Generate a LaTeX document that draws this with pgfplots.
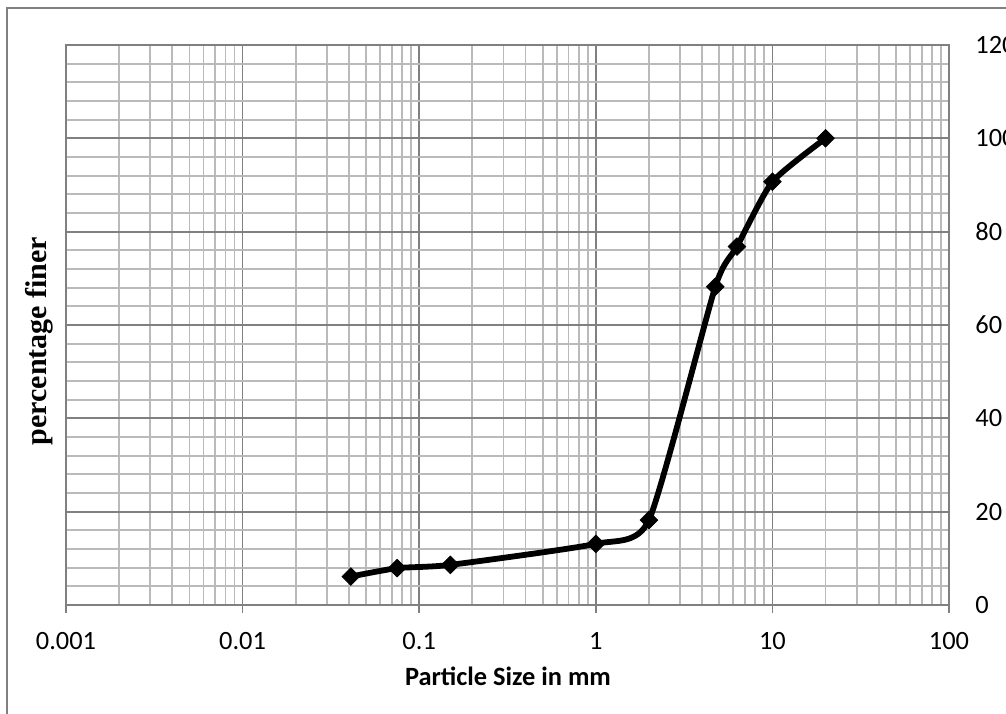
\documentclass[border=0pt]{standalone}
\usepackage{fontspec}
\setmainfont{Carlito}
\newfontfamily\titleserif{Liberation Serif}
\usepackage{pgfplots}
\pgfplotsset{compat=1.18}
\definecolor{majgrid}{HTML}{808080}
\definecolor{mingrid}{HTML}{BABABA}
\begin{document}
\begin{tikzpicture}
\clip (0,0) rectangle (503pt,356.5pt);
\path[use as bounding box] (0,0) rectangle (503pt,356.5pt);
% outer chart frame (only left and top edges are in view)
\draw[majgrid,line width=0.9pt] (3.5pt,-2pt) -- (3.5pt,352.5pt) -- (510pt,352.5pt);
\begin{axis}[
    at={(33pt,54pt)},anchor=south west,
    scale only axis,width=441.5pt,height=280pt,
    xmode=log,log basis x=10,
    xmin=0.001,xmax=100,ymin=0,ymax=120,
    xtick={0.001,0.01,0.1,1,10,100},
    xticklabels={0.001,0.01,0.1,1,10,100},
    minor xtick={0.002,0.003,0.004,0.005,0.006,0.007,0.008,0.009,
                 0.02,0.03,0.04,0.05,0.06,0.07,0.08,0.09,
                 0.2,0.3,0.4,0.5,0.6,0.7,0.8,0.9,
                 2,3,4,5,6,7,8,9,20,30,40,50,60,70,80,90},
    ytick={0,20,40,60,80,100,120},
    yticklabels={0,20,40,60,80,100,120},
    minor ytick={4,8,12,16,24,28,32,36,44,48,52,56,64,68,72,76,84,88,92,96,104,108,112,116},
    grid=both,
    major grid style={majgrid,line width=0.9pt},
    minor grid style={mingrid,line width=0.9pt},
    axis line style={majgrid,line width=0.9pt},
    tick style={majgrid,line width=0.9pt},
    xtick pos=bottom,tick align=outside,major tick length=4pt,minor tick length=0pt,
    ytick style={draw=none},
    yticklabel pos=right,
    /pgf/number format/assume math mode=true,
    tick label style={font=\fontsize{13.2}{15}\selectfont,text=black},
    xticklabel style={anchor=base,yshift=-18pt},
    yticklabel style={anchor=west,inner sep=0pt,xshift=9pt},
    clip=false,
]
\addplot[black,line width=2.9pt,smooth,tension=0.35,
    mark=square*,mark size=3.1pt,
    mark options={rotate=45,line width=0.4pt,fill=black}] coordinates
  {(0.041,6.1)(0.075,7.9)(0.15,8.6)(1,13.1)(2,18.2)(4.75,68.2)(6.3,76.8)(10,90.7)(20,100)};
\end{axis}
\node[anchor=base,font=\fontsize{13.2}{15}\selectfont\bfseries] at (254pt,14pt) {Particle Size in mm};
\node[anchor=base,rotate=90,font=\fontsize{15}{17}\selectfont\titleserif\bfseries] at (23.5pt,186pt) {percentage finer};
\end{tikzpicture}
\end{document}
